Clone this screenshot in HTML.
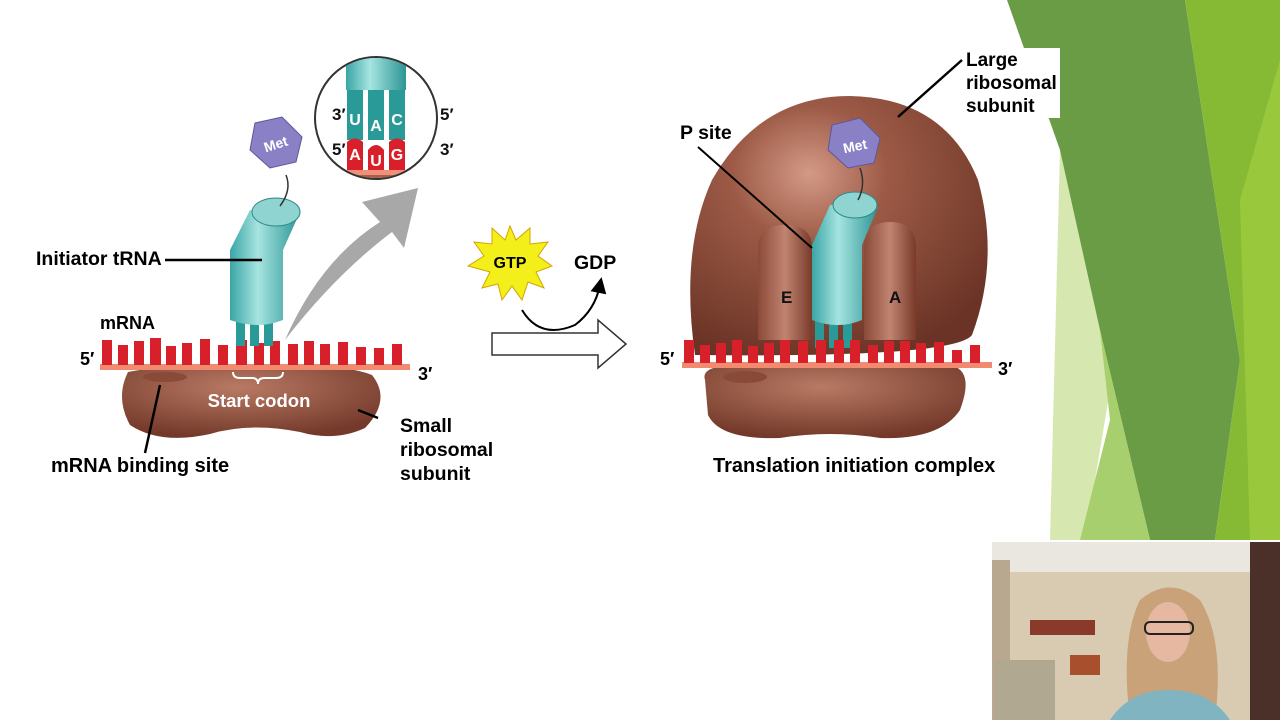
<!DOCTYPE html>
<html><head><meta charset="utf-8"><style>
body{margin:0;width:1280px;height:720px;overflow:hidden;background:#fff;font-family:"Liberation Sans",sans-serif}
svg{display:block}
text{font-family:"Liberation Sans",sans-serif;font-weight:bold}
</style></head><body>
<svg width="1280" height="720" viewBox="0 0 1280 720">
<defs>
<radialGradient id="rb" cx="0.4" cy="0.3" r="0.75"><stop offset="0" stop-color="#d49a86"/><stop offset="0.35" stop-color="#9c5a46"/><stop offset="1" stop-color="#6a3325"/></radialGradient>
<radialGradient id="sb" cx="0.45" cy="0.3" r="0.7"><stop offset="0" stop-color="#b87a64"/><stop offset="1" stop-color="#74392a"/></radialGradient>
<linearGradient id="tg" x1="0" x2="1"><stop offset="0" stop-color="#3aa6a6"/><stop offset="0.4" stop-color="#a6e4e0"/><stop offset="1" stop-color="#2c9595"/></linearGradient>
<linearGradient id="eg" x1="0" x2="1"><stop offset="0" stop-color="#8b4a38"/><stop offset="0.5" stop-color="#c08470"/><stop offset="1" stop-color="#7a3a2a"/></linearGradient>
<marker id="ah" markerWidth="8" markerHeight="8" refX="4" refY="4" orient="auto"><path d="M0,0L8,4L0,8z" fill="#000"/></marker>
</defs>
<polygon points="1060,150 1120,330 1085,540 1050,540" fill="#d6e8b0"/>
<polygon points="1007,0 1185,0 1240,360 1215,540 1150,540 1100,330 1060,150" fill="#6a9c45"/>
<polygon points="1100,330 1150,540 1080,540 1110,420" fill="#a8cf6e"/>
<polygon points="1185,0 1280,0 1280,540 1215,540 1240,360" fill="#86ba34"/>
<polygon points="1240,200 1280,60 1280,540 1250,540" fill="#9ac83c"/>
<rect x="1000" y="48" width="60" height="70" fill="#fff"/>

<path d="M128,372 Q180,362 260,368 Q340,362 372,375 Q392,400 365,428 Q335,442 300,432 Q250,422 210,434 Q160,445 130,425 Q115,398 128,372z" fill="url(#sb)"/>
<ellipse cx="165" cy="377" rx="22" ry="5" fill="#8a4a38"/>
<rect x="100" y="364" width="310" height="6" fill="#f08a70"/>
<g fill="#d8202a">
<rect x="102" y="340" width="10" height="25"/><rect x="118" y="345" width="10" height="20"/><rect x="134" y="341" width="10" height="24"/><rect x="150" y="338" width="11" height="27"/><rect x="166" y="346" width="10" height="19"/><rect x="182" y="343" width="10" height="22"/><rect x="200" y="339" width="10" height="26"/><rect x="218" y="345" width="10" height="20"/><rect x="236" y="340" width="11" height="25"/><rect x="254" y="343" width="10" height="22"/><rect x="270" y="341" width="10" height="24"/><rect x="288" y="344" width="10" height="21"/><rect x="304" y="341" width="10" height="24"/><rect x="320" y="344" width="10" height="21"/><rect x="338" y="342" width="10" height="23"/><rect x="356" y="347" width="10" height="18"/><rect x="374" y="348" width="10" height="17"/><rect x="392" y="344" width="10" height="21"/>
</g>
<rect x="236" y="318" width="9" height="28" fill="#2a9a98"/><rect x="250" y="318" width="9" height="28" fill="#2a9a98"/><rect x="264" y="318" width="9" height="28" fill="#2a9a98"/>
<path d="M230,250 L250,210 L300,212 L283,250 L283,320 Q258,330 230,320z" fill="url(#tg)"/>
<ellipse cx="276" cy="212" rx="24" ry="14" fill="#8fd4d0" stroke="#2a8a88"/>
<path d="M280,206 Q292,190 286,175" stroke="#333" fill="none" stroke-width="1.5"/>
<polygon points="255,123 282,117 302,137 296,162 270,168 250,150" fill="#8a80c6" stroke="#5e569a"/>
<text x="276" y="149" font-size="14" fill="#fff" text-anchor="middle" transform="rotate(-18 276 145)">Met</text>
<path d="M285,340 Q320,260 380,222 L362,202 L418,188 L404,248 L392,232 Q335,275 285,340z" fill="#a8a8a8"/>
<circle cx="376" cy="118" r="61" fill="#fff" stroke="#333" stroke-width="2"/>
<clipPath id="cc"><circle cx="376" cy="118" r="60"/></clipPath>
<g clip-path="url(#cc)">
<rect x="346" y="50" width="60" height="40" fill="url(#tg)"/>
<rect x="347" y="90" width="16" height="50" fill="#2a9a98"/><rect x="368" y="90" width="16" height="50" fill="#2a9a98"/><rect x="389" y="90" width="16" height="50" fill="#2a9a98"/>
<path d="M347,142 Q355,135 363,142 V172 H347z" fill="#d8202a"/><path d="M368,150 Q376,140 384,150 V172 H368z" fill="#d8202a"/><path d="M389,142 Q397,135 405,142 V172 H389z" fill="#d8202a"/>
<rect x="310" y="170" width="140" height="20" fill="#a85e48"/><rect x="310" y="170" width="140" height="5" fill="#f0907a"/>
</g>
<g font-size="16" fill="#fff" text-anchor="middle"><text x="355" y="125">U</text><text x="376" y="131">A</text><text x="397" y="125">C</text><text x="355" y="160">A</text><text x="376" y="166">U</text><text x="397" y="160">G</text></g>
<g font-size="17" fill="#111"><text x="332" y="120">3′</text><text x="332" y="155">5′</text><text x="440" y="120">5′</text><text x="440" y="155">3′</text></g>
<line x1="165" y1="260" x2="262" y2="260" stroke="#000" stroke-width="2.5"/>
<text x="36" y="265" font-size="19.5">Initiator tRNA</text>
<text x="100" y="329" font-size="18">mRNA</text>
<text x="80" y="365" font-size="18">5′</text>
<text x="418" y="380" font-size="18">3′</text>
<path d="M233,372 Q233,378 240,378 L252,378 Q258,378 258,384 Q258,378 264,378 L276,378 Q283,378 283,372" stroke="#fff" stroke-width="2" fill="none"/>
<text x="259" y="407" font-size="18.5" fill="#fff" text-anchor="middle">Start codon</text>
<line x1="160" y1="385" x2="145" y2="453" stroke="#000" stroke-width="2.5"/>
<text x="51" y="472" font-size="20">mRNA binding site</text>
<line x1="358" y1="410" x2="378" y2="418" stroke="#000" stroke-width="2.5"/>
<text x="400" y="432" font-size="19.5">Small</text><text x="400" y="456" font-size="19.5">ribosomal</text><text x="400" y="480" font-size="19.5">subunit</text>

<polygon points="510,226 516,240 530,228 530,244 548,242 538,256 552,266 536,272 544,288 528,282 522,300 512,286 502,300 498,284 482,288 490,272 468,266 484,256 474,242 492,244 492,228 505,240" fill="#f3ef1a" stroke="#d3a400"/>
<text x="510" y="268" font-size="16" fill="#000" text-anchor="middle">GTP</text>
<path d="M522,310 Q540,340 575,325 Q595,310 600,285" stroke="#000" stroke-width="2" fill="none" marker-end="url(#ah)"/>
<text x="574" y="269" font-size="19.5">GDP</text>
<path d="M492,333 H598 V320 L626,344 L598,368 V355 H492z" fill="#fff" stroke="#333" stroke-width="1.5"/>

<path d="M695,355 Q680,250 712,180 Q760,96 850,96 Q945,98 978,180 Q1000,260 972,335 Q955,358 695,355z" fill="url(#rb)"/>
<path d="M705,380 Q700,365 740,365 L950,365 Q975,370 960,410 Q940,440 880,438 Q830,430 780,438 Q720,440 708,415z" fill="url(#sb)"/>
<ellipse cx="745" cy="377" rx="22" ry="6" fill="#8a4a38"/>
<path d="M758,340 V248 Q758,225 785,225 Q812,225 812,248 V340z" fill="url(#eg)"/>
<path d="M864,340 V248 Q864,222 890,222 Q916,222 916,248 V340z" fill="url(#eg)"/>
<rect x="815" y="318" width="9" height="30" fill="#2a9a98"/><rect x="829" y="318" width="9" height="30" fill="#2a9a98"/><rect x="843" y="318" width="9" height="30" fill="#2a9a98"/>
<path d="M812,245 L830,205 L878,207 L862,245 L862,320 Q838,330 812,320z" fill="url(#tg)"/>
<ellipse cx="855" cy="205" rx="22" ry="13" fill="#8fd4d0" stroke="#2a8a88"/>
<path d="M858,200 Q866,185 860,168" stroke="#333" fill="none" stroke-width="1.5"/>
<polygon points="832,125 860,118 880,138 874,163 848,168 828,150" fill="#8a80c6" stroke="#5e569a"/>
<text x="855" y="151" font-size="14" fill="#fff" text-anchor="middle" transform="rotate(-12 855 146)">Met</text>
<rect x="682" y="362" width="310" height="6" fill="#f08a70"/>
<g fill="#d8202a">
<rect x="684" y="340" width="10" height="23"/><rect x="700" y="345" width="10" height="18"/><rect x="716" y="343" width="10" height="20"/><rect x="732" y="340" width="10" height="23"/><rect x="748" y="346" width="10" height="17"/><rect x="764" y="343" width="10" height="20"/><rect x="780" y="340" width="10" height="23"/><rect x="798" y="341" width="10" height="22"/><rect x="816" y="340" width="10" height="23"/><rect x="834" y="340" width="10" height="23"/><rect x="850" y="340" width="10" height="23"/><rect x="868" y="345" width="10" height="18"/><rect x="884" y="341" width="10" height="22"/><rect x="900" y="341" width="10" height="22"/><rect x="916" y="343" width="10" height="20"/><rect x="934" y="342" width="10" height="21"/><rect x="952" y="350" width="10" height="13"/><rect x="970" y="345" width="10" height="18"/>
</g>
<text x="781" y="303" font-size="17" fill="#111">E</text>
<text x="889" y="303" font-size="17" fill="#111">A</text>
<line x1="698" y1="147" x2="812" y2="248" stroke="#000" stroke-width="2"/>
<text x="680" y="139" font-size="19.5">P site</text>
<line x1="962" y1="60" x2="898" y2="117" stroke="#000" stroke-width="2.5"/>
<text x="966" y="66" font-size="19">Large</text><text x="966" y="89" font-size="19">ribosomal</text><text x="966" y="112" font-size="19">subunit</text>
<text x="660" y="365" font-size="18">5′</text>
<text x="998" y="375" font-size="18">3′</text>
<text x="713" y="472" font-size="20">Translation initiation complex</text>

<rect x="992" y="542" width="288" height="178" fill="#d8cbb2"/>
<rect x="992" y="542" width="258" height="30" fill="#eae6e0"/>
<rect x="1250" y="542" width="30" height="178" fill="#4a3028"/>
<rect x="992" y="560" width="18" height="160" fill="#b8a890"/>
<rect x="1030" y="620" width="65" height="15" fill="#8a3a2a"/>
<rect x="995" y="660" width="60" height="60" fill="#b0a890"/>
<rect x="1070" y="655" width="30" height="20" fill="#a8502e"/>
<path d="M1130,720 Q1120,640 1140,600 Q1170,575 1200,600 Q1225,640 1215,720z" fill="#c9a27a"/>
<ellipse cx="1168" cy="632" rx="22" ry="30" fill="#e6b8a2"/>
<rect x="1145" y="622" width="48" height="12" rx="5" fill="none" stroke="#222" stroke-width="2"/>
<path d="M1110,720 Q1130,690 1168,690 Q1210,690 1230,720z" fill="#7fb4c0"/>
</svg>
</body></html>
